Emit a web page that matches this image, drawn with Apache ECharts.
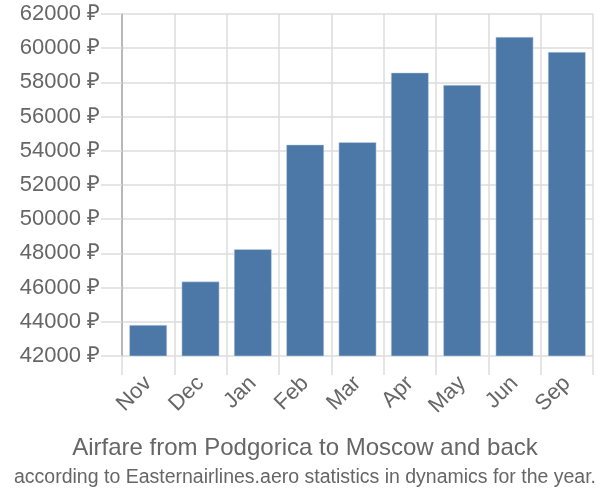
<!DOCTYPE html>
<html><head><meta charset="utf-8">
<script src="https://cdn.jsdelivr.net/npm/echarts@6/dist/echarts.min.js"></script>
<style>html,body{margin:0;padding:0;background:#fff}#c{width:600px;height:500px}</style>
</head><body><div id="c"></div>
<script>
const categories = ['Nov','Dec','Jan','Feb','Mar','Apr','May','Jun','Sep'];
const fares = [43810, 46350, 48240, 54360, 54500, 58570, 57850, 60660, 59780];
const yMin = 42000, yMax = 62000, yStep = 2000;
const titleText = 'Airfare from Podgorica to Moscow and back';
const subText = 'according to Easternairlines.aero statistics in dynamics for the year.';

const chart = echarts.init(document.getElementById('c'), null, {renderer:'canvas'});
const font = 'Liberation Sans, Arial, sans-serif';
chart.setOption({
  animation:false,
  title:[
    {text:titleText, left:300, top:431, textAlign:'center',
     textStyle:{fontFamily:font, fontSize:24, fontWeight:'normal', color:'#666'}},
    {text:subText, left:300, top:463, textAlign:'center',
     textStyle:{fontFamily:font, fontSize:19.5, fontWeight:'normal', color:'#666'}}
  ],
  grid:{left:122, right:7, top:14, bottom:144, containLabel:false},
  xAxis:{type:'category', data:categories, boundaryGap:true,
    axisLine:{show:false},
    axisTick:{show:true, length:19, lineStyle:{color:'#ddd', width:1.5}},
    splitLine:{show:true, lineStyle:{color:'#ddd', width:1.5}},
    axisLabel:{rotate:45, margin:24, fontFamily:font, fontSize:22, color:'#666'}
  },
  yAxis:{type:'value', min:yMin, max:yMax, interval:yStep,
    axisLine:{show:true, lineStyle:{color:'#aaa', width:1.5}},
    axisTick:{show:true, length:21, lineStyle:{color:'#ddd', width:1.5}},
    splitLine:{show:true, lineStyle:{color:'#ddd', width:1.5}},
    axisLabel:{formatter:function(v){return v + ' ₽';}, margin:22, fontFamily:font, fontSize:22, color:'#666'}
  },
  series:[{type:'bar', data:fares, barCategoryGap:'28%',
    itemStyle:{color:'#4c78a8', borderColor:'#c8d6e6', borderWidth:0.5}}]
});
</script></body></html>
